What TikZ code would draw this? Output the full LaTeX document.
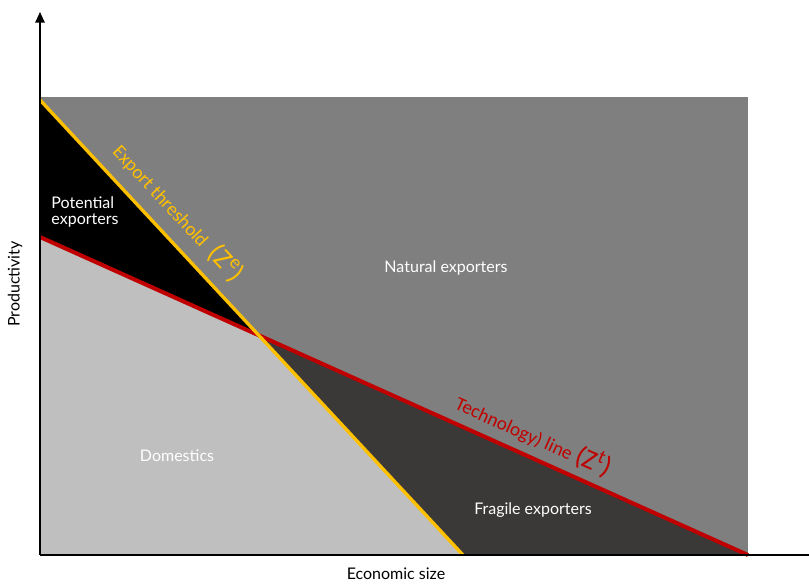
\documentclass[tikz,border=0pt]{standalone}
\usepackage{fontspec}
\setmainfont{Lato}
\newfontfamily\linefont{Carlito}
\usetikzlibrary{arrows.meta}
\definecolor{natgray}{HTML}{7F7F7F}
\definecolor{fraggray}{HTML}{3B3838}
\definecolor{domgray}{HTML}{BFBFBF}
\definecolor{expyellow}{HTML}{FFC000}
\definecolor{techred}{HTML}{C00000}
\begin{document}
\begin{tikzpicture}[x=0.75pt, y=-0.75pt]
    \useasboundingbox (0,0) rectangle (809,583);

    % Key points
    \coordinate (o) at (40,555);
    \coordinate (top) at (40,12);
    \coordinate (right) at (809,555);
    \coordinate (e1) at (40,100);
    \coordinate (e2) at (463,555);
    \coordinate (t1) at (40,237);
    \coordinate (t2) at (748,555);
    \coordinate (x) at (intersection of e1--e2 and t1--t2);

    % Draw regions
    \fill[natgray] (40,97) rectangle (748,555);
    \fill[black] (40,97) -- (e1) -- (x) -- (t1) -- cycle;
    \fill[domgray] (t1) -- (x) -- (e2) -- (o) -- cycle;
    \fill[fraggray] (x) -- (t2) -- (e2) -- cycle;

    % Draw lines
    \draw[line width=3pt, techred] (t1) -- (t2)
        node[pos=0.685, sloped, above=2pt, text=techred, font=\linefont\Large] (techlabel)
        {Technology) line {\huge(Z\textsuperscript{t})}};
    \draw[line width=2.5pt, expyellow] (e1) -- (e2)
        node[pos=0.285, sloped, above=5pt, text=expyellow, font=\linefont\Large] (explabel)
        {Export threshold {\huge\,(Z\textsuperscript{e})}};

    % Draw axes
    \draw[line width=1.5pt, -{Triangle[length=8pt, width=7pt]}] (o) -- (top);
    \draw[line width=1.5pt] (o) -- (right);

    % Region labels
    \node[white, align=left, font=\large] (potential) at (85,212) {Potential\\[-2pt]exporters};
    \node[white, font=\large] (natural) at (446,268) {Natural exporters};
    \node[white, font=\large] (domestics) at (177,456) {Domestics};
    \node[white, font=\large] (fragile) at (533,510) {Fragile exporters};

    % Axis labels
    \node[font=\large] (xlabel) at (396,574) {Economic size};
    \node[rotate=90, font=\large] (ylabel) at (15,284) {Productivity};
\end{tikzpicture}
\end{document}
